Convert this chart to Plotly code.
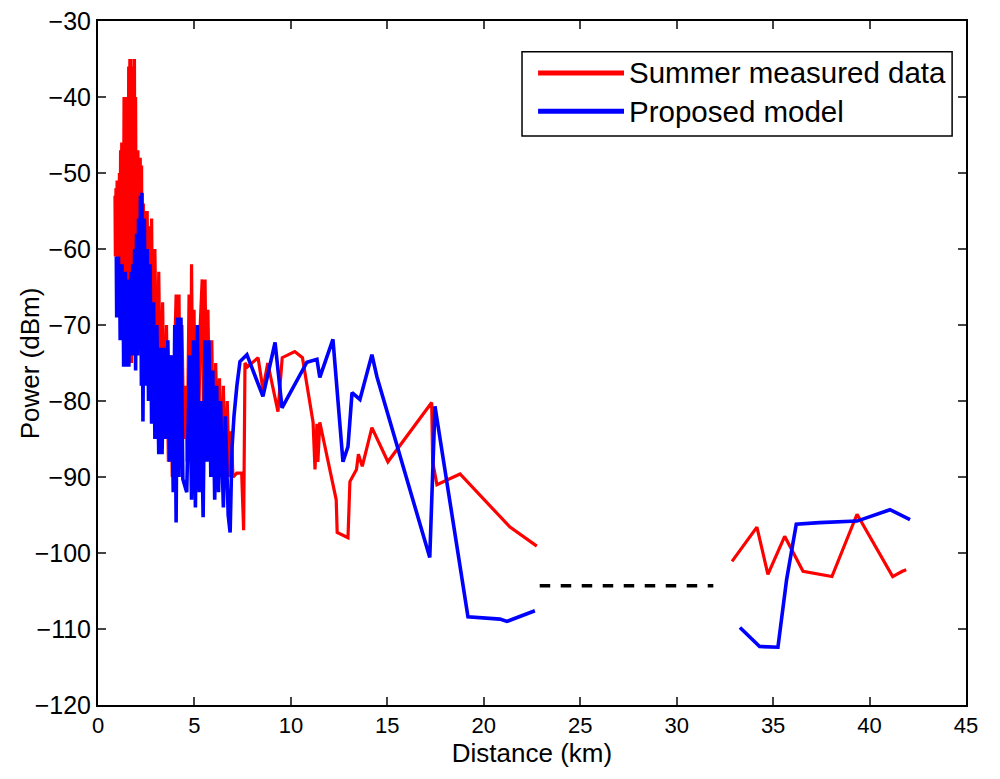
import plotly.graph_objects as go

# ---------------- data ----------------
measured_x = [0.88, 0.90, 0.93, 0.96, 0.99, 1.02, 1.05, 1.08, 1.11, 1.14, 1.17, 1.20, 1.23, 1.26, 1.29,
              1.32, 1.35, 1.38, 1.41, 1.44, 1.47, 1.50, 1.53, 1.56, 1.59, 1.62, 1.65, 1.68, 1.71, 1.74,
              1.77, 1.80, 1.83, 1.86, 1.89, 1.92, 1.95, 1.98, 2.01, 2.04, 2.07, 2.10, 2.13, 2.16, 2.19,
              2.22, 2.26, 2.30, 2.35, 2.40, 2.45, 2.50, 2.55, 2.60, 2.65, 2.70, 2.78, 2.85, 2.95,
              3.05, 3.15, 3.25, 3.35, 3.45, 3.55,
              3.65, 3.75, 3.85, 3.95, 4.05, 4.12, 4.20, 4.28, 4.35, 4.45, 4.55, 4.62, 4.72, 4.80, 4.85,
              4.92, 4.98, 5.05, 5.12, 5.20, 5.30, 5.40, 5.48, 5.55, 5.62, 5.70, 5.80, 5.90, 6.00, 6.10,
              6.20, 6.30, 6.40, 6.50, 6.60, 6.70, 6.80, 6.90, 7.00, 7.20, 7.45, 7.55, 7.62, 7.75, 8.30,
              8.55, 8.80, 9.33, 9.55, 10.20, 10.60, 11.15, 11.25, 11.35, 11.40, 11.50, 12.35, 12.40, 12.96,
              13.06, 13.40, 13.50, 13.70, 14.20, 15.03, 17.30, 17.35, 17.57, 18.77, 21.36, 22.75,
              None,
              32.87, 34.16, 34.73, 35.60, 36.55, 38.05, 39.35, 41.20, 41.70, 41.90]
measured_y = [-53, -61, -52, -60, -51, -62, -52, -60, -50, -63, -47, -61, -46, -64, -46,
              -60, -40, -66, -40, -62, -41, -72, -40, -64, -36, -75, -35, -70, -35, -75,
              -36, -66, -38, -72, -35, -68, -40, -62, -47, -71, -47, -66, -48, -70, -48,
              -66, -49, -74, -54, -70, -55, -76, -55, -72, -57, -78, -56, -76, -60,
              -80, -63, -83, -67, -85, -70,
              -88, -74, -90, -76, -66, -88, -66, -87, -70, -85, -78, -88, -66, -84, -62,
              -82, -68, -86, -73, -88, -70, -64, -86, -64, -80, -68, -86, -72, -90, -75,
              -84, -77, -90, -78, -91, -80, -90, -84, -90, -89.5, -89.5, -97, -75, -75.5, -74.3,
              -78.5, -75, -81.4, -74.3, -73.5, -74.3, -82.8, -89, -83, -88, -82.8, -93, -97.3, -98,
              -90.6, -89, -87, -88.6, -83.5, -88, -80.2, -88, -91, -89.6, -96.6, -99.1,
              None,
              -101.1, -96.6, -102.8, -97.8, -102.4, -103.1, -94.9, -103.1, -102.4, -102.2]

model_x = [0.95, 0.97, 1.00, 1.03, 1.06, 1.09, 1.12, 1.15, 1.18, 1.21, 1.24, 1.27, 1.30, 1.33, 1.36,
           1.39, 1.42, 1.45, 1.48, 1.52, 1.56, 1.60, 1.64, 1.68, 1.72, 1.76, 1.80, 1.85, 1.90, 1.95,
           2.00, 2.05, 2.10, 2.15, 2.20, 2.25, 2.28, 2.33, 2.40, 2.48, 2.55, 2.62, 2.70, 2.78,
           2.88, 2.95, 3.05, 3.15, 3.25, 3.32, 3.42, 3.52, 3.62, 3.72, 3.80, 3.90, 3.98, 4.05, 4.12,
           4.20, 4.30, 4.40, 4.60, 4.75, 4.85, 4.95, 5.05, 5.15, 5.25, 5.35, 5.45, 5.55, 5.65, 5.75,
           5.85, 5.95, 6.05, 6.15, 6.25, 6.35, 6.50, 6.60, 6.75, 6.85, 6.95, 7.05, 7.20, 7.36, 7.72,
           8.55, 9.18, 9.54, 10.83, 11.35, 11.50, 12.18, 12.70, 12.96, 13.17, 13.58, 14.20, 14.46,
           17.20, 17.47, 19.18, 20.84, 21.20, 22.65,
           None,
           33.28, 34.30, 35.25, 35.70, 36.20, 37.40, 39.35, 41.06, 42.10]
model_y = [-61, -69, -62, -67, -61, -68, -63, -72, -63, -70, -62, -68, -64, -75.5, -64,
           -70, -63, -75.5, -65, -70, -64, -75.5, -66, -72, -63, -74, -62, -72, -60, -76,
           -58, -74, -56, -70, -53, -78, -52.6, -82.7, -56, -78, -60, -80, -62, -83,
           -67, -85, -70, -87, -73, -87, -73, -85, -72, -88, -74, -92, -70, -96, -69,
           -90, -69, -90.3, -92, -74, -93, -72, -94, -70, -92, -80, -95.3, -72, -88, -72,
           -90, -76, -93, -78, -92, -80, -94, -82, -95, -97.3, -86, -82, -78, -74.8, -73.9,
           -79.4, -72.3, -80.9, -74.9, -74.5, -76.9, -71.9, -88, -86, -78.9, -79.8, -73.9, -76.8,
           -100.6, -80.7, -108.4, -108.7, -109, -107.6,
           None,
           -109.8, -112.3, -112.4, -103.5, -96.2, -96, -95.8, -94.3, -95.6]

gap_x = [22.9, 31.9]
gap_y = [-104.3, -104.3]

series_names = ["Summer measured data", "Proposed model"]
series_colors = ["#ff0000", "#0000ff"]

x_ticks = [0, 5, 10, 15, 20, 25, 30, 35, 40, 45]
y_ticks = [-30, -40, -50, -60, -70, -80, -90, -100, -110, -120]

# ---------------- figure ----------------
fig = go.Figure()
fig.add_trace(go.Scatter(x=measured_x, y=measured_y, mode="lines", name=series_names[0],
                         line=dict(color=series_colors[0], width=3.2), connectgaps=False,
                         showlegend=False))
fig.add_trace(go.Scatter(x=model_x, y=model_y, mode="lines", name=series_names[1],
                         line=dict(color=series_colors[1], width=3.6), connectgaps=False,
                         showlegend=False))
fig.add_trace(go.Scatter(x=gap_x, y=gap_y, mode="lines", name="gap",
                         line=dict(color="black", width=3.5, dash="dash"), showlegend=False))

font_family = "Liberation Sans, Arial, sans-serif"

# manual legend (MATLAB style)
lx0, lx1, ly0, ly1 = 0.4885, 0.984, 0.832, 0.955
fig.add_shape(type="rect", xref="paper", yref="paper", x0=lx0, x1=lx1, y0=ly0, y1=ly1,
              line=dict(color="black", width=1.5), fillcolor="white", layer="above")
legend_rows = [0.924, 0.868]
for name, color, yy in zip(series_names, series_colors, legend_rows):
    fig.add_shape(type="line", xref="paper", yref="paper", x0=0.507, x1=0.606, y0=yy, y1=yy,
                  line=dict(color=color, width=5), layer="above")
    fig.add_annotation(xref="paper", yref="paper", x=0.612, y=yy, text=name, showarrow=False,
                       xanchor="left", yanchor="middle", xshift=-2,
                       font=dict(family=font_family, size=29.5, color="black"))

# y-axis title placed like the MATLAB original
fig.add_annotation(xref="paper", yref="paper", x=-0.078, y=0.5, text="Power (dBm)",
                   textangle=-90, showarrow=False, xanchor="center", yanchor="middle",
                   font=dict(family=font_family, size=26, color="black"))

fig.update_layout(
    width=1000, height=779,
    margin=dict(l=98, r=34, t=21, b=74),
    paper_bgcolor="white", plot_bgcolor="white",
    font=dict(family=font_family, size=22, color="black"),
)
fig.update_xaxes(range=[0, 45], tickvals=x_ticks, ticks="inside", ticklen=8, tickwidth=1.5,
                 showline=True, linecolor="black", linewidth=2, mirror="ticks", showgrid=False,
                 zeroline=False, automargin=False,
                 title=dict(text="Distance (km)", standoff=4, font=dict(size=26)),
                 tickfont=dict(size=22))
fig.update_yaxes(range=[-120, -30], tickvals=y_ticks, ticks="inside", ticklen=8, tickwidth=1.5,
                 showline=True, linecolor="black", linewidth=2, mirror="ticks", showgrid=False,
                 zeroline=False, automargin=False,
                 tickfont=dict(size=25))

fig.write_html("out.html")
